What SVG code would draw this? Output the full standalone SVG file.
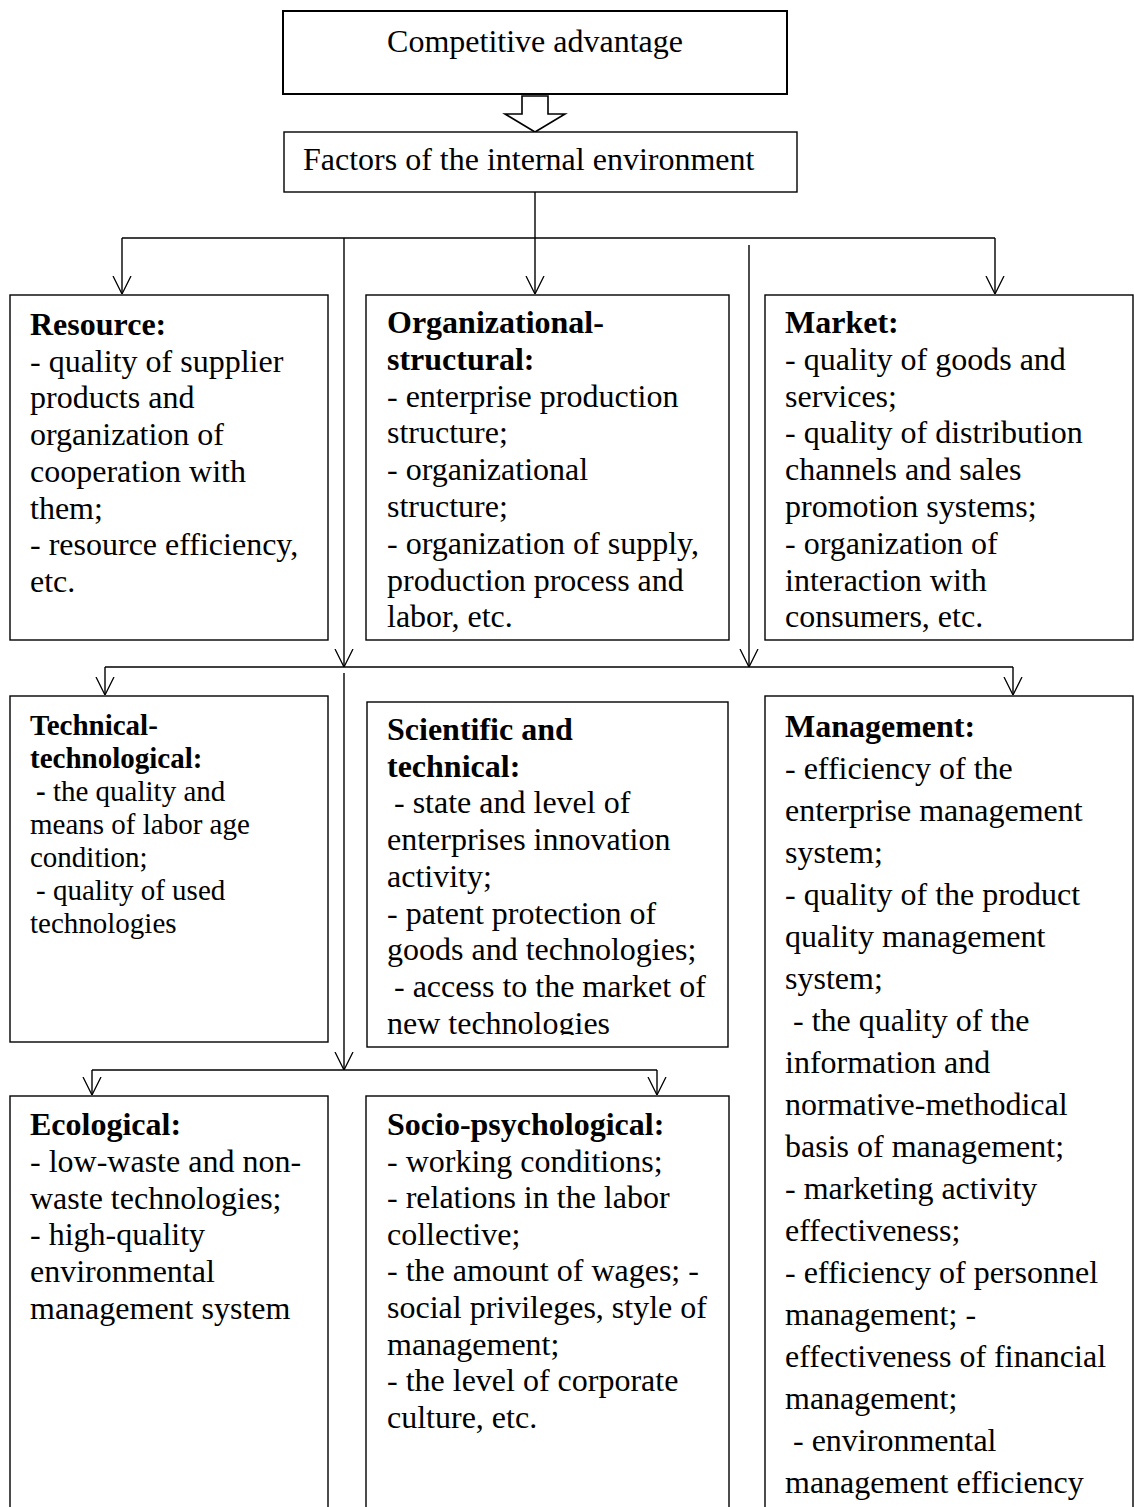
<svg xmlns="http://www.w3.org/2000/svg" width="1134" height="1507" viewBox="0 0 1134 1507">
<style>
.box{fill:#fff;stroke:#000;stroke-width:1.4}
.t{font-family:"Liberation Serif","Times New Roman",serif;font-size:32px;fill:#000}
.s{font-size:29px}
.b{font-weight:bold}
.c{fill:none;stroke:#000;stroke-width:1.4}
</style>
<defs>
<marker id="v" viewBox="0 0 18 20" refX="18" refY="10" markerWidth="18" markerHeight="20" markerUnits="userSpaceOnUse" orient="auto">
<path d="M0,1 L18,10 L0,19" fill="none" stroke="#000" stroke-width="1.3"/>
</marker>
<clipPath id="clipTop"><rect x="0" y="290" width="1134" height="343"/></clipPath>
<clipPath id="clipSci"><rect x="360" y="700" width="380" height="335"/></clipPath>
</defs>
<rect width="1134" height="1507" fill="#fff"/>

<g id="connectors">
<path class="c" d="M522,96 L548,96 L548,114 L565,114 L535,132 L505,114 L522,114 Z" style="fill:#fff;stroke-width:1.6"/>
<line class="c" x1="535" y1="192" x2="535" y2="294" marker-end="url(#v)"/>
<line class="c" x1="122" y1="238" x2="995" y2="238"/>
<line class="c" x1="122" y1="238" x2="122" y2="294" marker-end="url(#v)"/>
<line class="c" x1="995" y1="238" x2="995" y2="294" marker-end="url(#v)"/>
<line class="c" x1="344" y1="238" x2="344" y2="667" marker-end="url(#v)"/>
<line class="c" x1="749" y1="245" x2="749" y2="667" marker-end="url(#v)"/>
<line class="c" x1="105" y1="667" x2="1013" y2="667"/>
<line class="c" x1="105" y1="667" x2="105" y2="695" marker-end="url(#v)"/>
<line class="c" x1="1013" y1="667" x2="1013" y2="695" marker-end="url(#v)"/>
<line class="c" x1="344" y1="673" x2="344" y2="1070" marker-end="url(#v)"/>
<line class="c" x1="92" y1="1070" x2="657" y2="1070"/>
<line class="c" x1="92" y1="1070" x2="92" y2="1095" marker-end="url(#v)"/>
<line class="c" x1="657" y1="1070" x2="657" y2="1095" marker-end="url(#v)"/>
</g>

<g id="competitive-advantage">
<rect class="box" x="283" y="11" width="504" height="83" style="stroke-width:2"/>
<text class="t" x="535" y="52" text-anchor="middle">Competitive advantage</text>
</g>

<g id="factors">
<rect class="box" x="284" y="132" width="513" height="60"/>
<text class="t" x="303" y="170">Factors of the internal environment</text>
</g>

<g id="resource">
<rect class="box" x="10" y="295" width="318" height="345"/>
<text class="t" x="30" y="335"><tspan class="b">Resource:</tspan><tspan x="30" dy="36.7">- quality of supplier</tspan><tspan x="30" dy="36.7">products and</tspan><tspan x="30" dy="36.7">organization of</tspan><tspan x="30" dy="36.7">cooperation with</tspan><tspan x="30" dy="36.7">them;</tspan><tspan x="30" dy="36.7">- resource efficiency,</tspan><tspan x="30" dy="36.7">etc.</tspan></text>
</g>

<g id="organizational-structural">
<rect class="box" x="366" y="295" width="363" height="345"/>
<text class="t" x="387" y="333" clip-path="url(#clipTop)"><tspan class="b">Organizational-</tspan><tspan x="387" dy="36.8" class="b">structural:</tspan><tspan x="387" dy="36.8">- enterprise production</tspan><tspan x="387" dy="36.8">structure;</tspan><tspan x="387" dy="36.8">- organizational</tspan><tspan x="387" dy="36.8">structure;</tspan><tspan x="387" dy="36.8">- organization of supply,</tspan><tspan x="387" dy="36.8">production process and</tspan><tspan x="387" dy="36.8">labor, etc.</tspan></text>
</g>

<g id="market">
<rect class="box" x="765" y="295" width="368" height="345"/>
<text class="t" x="785" y="333" clip-path="url(#clipTop)"><tspan class="b">Market:</tspan><tspan x="785" dy="36.8">- quality of goods and</tspan><tspan x="785" dy="36.8">services;</tspan><tspan x="785" dy="36.8">- quality of distribution</tspan><tspan x="785" dy="36.8">channels and sales</tspan><tspan x="785" dy="36.8">promotion systems;</tspan><tspan x="785" dy="36.8">- organization of</tspan><tspan x="785" dy="36.8">interaction with</tspan><tspan x="785" dy="36.8">consumers, etc.</tspan></text>
</g>

<g id="technical-technological">
<rect class="box" x="10" y="696" width="318" height="346"/>
<text class="t s" x="30" y="735"><tspan class="b">Technical-</tspan><tspan x="30" dy="33" class="b">technological:</tspan><tspan x="36" dy="33" class="b">-</tspan><tspan> the quality and</tspan><tspan x="30" dy="33">means of labor age</tspan><tspan x="30" dy="33">condition;</tspan><tspan x="36" dy="33">- quality of used</tspan><tspan x="30" dy="33">technologies</tspan></text>
</g>

<g id="scientific-technical">
<rect class="box" x="367" y="702" width="361" height="345"/>
<text class="t" x="387" y="740" clip-path="url(#clipSci)"><tspan class="b">Scientific and</tspan><tspan x="387" dy="36.7" class="b">technical:</tspan><tspan x="394" dy="36.7">- state and level of</tspan><tspan x="387" dy="36.7">enterprises innovation</tspan><tspan x="387" dy="36.7">activity;</tspan><tspan x="387" dy="36.7">- patent protection of</tspan><tspan x="387" dy="36.7">goods and technologies;</tspan><tspan x="394" dy="36.7">- access to the market of</tspan><tspan x="387" dy="36.7">new technologies</tspan></text>
</g>

<g id="management">
<rect class="box" x="765" y="696" width="368" height="830"/>
<text class="t" x="785" y="737"><tspan class="b">Management:</tspan><tspan x="785" dy="42">- efficiency of the</tspan><tspan x="785" dy="42">enterprise management</tspan><tspan x="785" dy="42">system;</tspan><tspan x="785" dy="42">- quality of the product</tspan><tspan x="785" dy="42">quality management</tspan><tspan x="785" dy="42">system;</tspan><tspan x="793" dy="42">- the quality of the</tspan><tspan x="785" dy="42">information and</tspan><tspan x="785" dy="42">normative-methodical</tspan><tspan x="785" dy="42">basis of management;</tspan><tspan x="785" dy="42">- marketing activity</tspan><tspan x="785" dy="42">effectiveness;</tspan><tspan x="785" dy="42">- efficiency of personnel</tspan><tspan x="785" dy="42">management; -</tspan><tspan x="785" dy="42">effectiveness of financial</tspan><tspan x="785" dy="42">management;</tspan><tspan x="793" dy="42">- environmental</tspan><tspan x="785" dy="42">management efficiency</tspan></text>
</g>

<g id="ecological">
<rect class="box" x="10" y="1096" width="318" height="430"/>
<text class="t" x="30" y="1135"><tspan class="b">Ecological:</tspan><tspan x="30" dy="36.8">- low-waste and non-</tspan><tspan x="30" dy="36.8">waste technologies;</tspan><tspan x="30" dy="36.8">- high-quality</tspan><tspan x="30" dy="36.8">environmental</tspan><tspan x="30" dy="36.8">management system</tspan></text>
</g>

<g id="socio-psychological">
<rect class="box" x="366" y="1096" width="363" height="430"/>
<text class="t" x="387" y="1135"><tspan class="b">Socio-psychological:</tspan><tspan x="387" dy="36.6">- working conditions;</tspan><tspan x="387" dy="36.6">- relations in the labor</tspan><tspan x="387" dy="36.6">collective;</tspan><tspan x="387" dy="36.6">- the amount of wages; -</tspan><tspan x="387" dy="36.6">social privileges, style of</tspan><tspan x="387" dy="36.6">management;</tspan><tspan x="387" dy="36.6">- the level of corporate</tspan><tspan x="387" dy="36.6">culture, etc.</tspan></text>
</g>
</svg>
